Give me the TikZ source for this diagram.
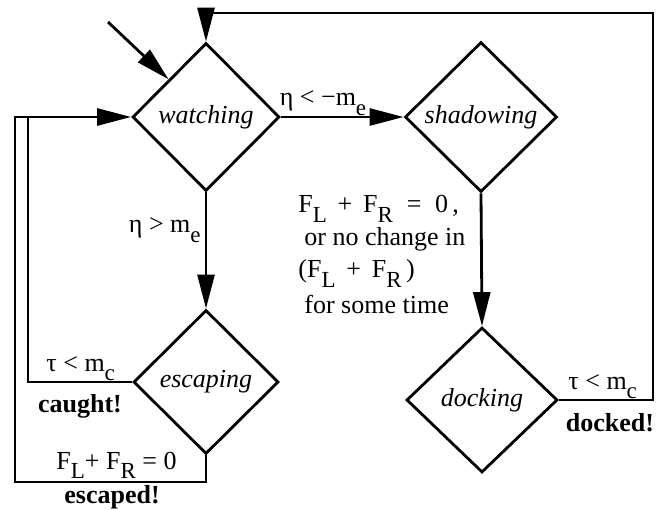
\documentclass[tikz,border=0pt]{standalone}
\usepackage{fontspec}
\setmainfont{Liberation Serif}
\usetikzlibrary{shapes.geometric,arrows.meta}
\newcommand\lw[1]{\smash{\raisebox{-0.38em}{\fontsize{23}{23}\selectfont #1}}}
\begin{document}
\begin{tikzpicture}[x=1pt,y=-1pt,
  line width=2.8pt,
  state/.style={draw,diamond,inner sep=0pt,font=\fontsize{26}{30}\selectfont\itshape},
  arr/.style={-{Triangle[length=34pt,width=17pt]}},
  lbl/.style={inner sep=0pt,font=\fontsize{26}{30}\selectfont},
  blbl/.style={inner sep=0pt,font=\fontsize{26}{30}\selectfont\bfseries}]
\useasboundingbox (0,0) rectangle (658,510);
\node[state,minimum width=147pt,minimum height=148pt] (watching) at (206,117) {watching};
\node[state,minimum width=152pt,minimum height=150pt] (shadowing) at (481,117) {shadowing};
\node[state,minimum width=145pt,minimum height=144pt] (escaping) at (206,382) {escaping};
\node[state,minimum width=151pt,minimum height=145pt] (docking) at (482,400) {docking};
\coordinate (start) at (108,22);
\coordinate (tr) at (653,13);
\coordinate (il) at (28,117);
\coordinate (ol) at (15,482);
% connectors
\draw[arr] (start) -- (watching.north west);
\draw[arr] (watching.east) -- (shadowing.west);
\draw[arr] (watching.south) -- (escaping.north);
\draw[arr] (shadowing.south) -- (docking.north);
\draw[arr] (docking.east) -| (tr) -| (watching.north);
\draw (escaping.west) -| (il);
\draw[arr] (escaping.south) |- (ol) |- (watching.west);
% labels
\node[lbl,anchor=base] (l1) at (323,106) {η < −m\lw{e}};
\node[lbl,anchor=base east] (l2) at (202,233) {η > m\lw{e}};
\node[lbl,anchor=base west] (l3) at (297,213) {F\lw{L} \,+\, F\lw{R} \;=\; 0\,,};
\node[lbl,anchor=base west] (l4) at (303,246) {or no change in};
\node[lbl,anchor=base west] (l5) at (297,278) {(F\lw{L} \,+\, F\lw{R}\,)};
\node[lbl,anchor=base west] (l6) at (303,313) {for some time};
\node[lbl,anchor=base west] (l7) at (45,371) {τ < m\lw{c}};
\node[blbl,anchor=base] (l8) at (80,412) {caught!};
\node[lbl,anchor=base west] (l9) at (55,469) {F\lw{L}+ F\lw{R} = 0};
\node[blbl,anchor=base] (l10) at (112,503) {escaped!};
\node[lbl,anchor=base west] (l11) at (567,389) {τ < m\lw{c}};
\node[blbl,anchor=base] (l12) at (610,431) {docked!};
\end{tikzpicture}
\end{document}
